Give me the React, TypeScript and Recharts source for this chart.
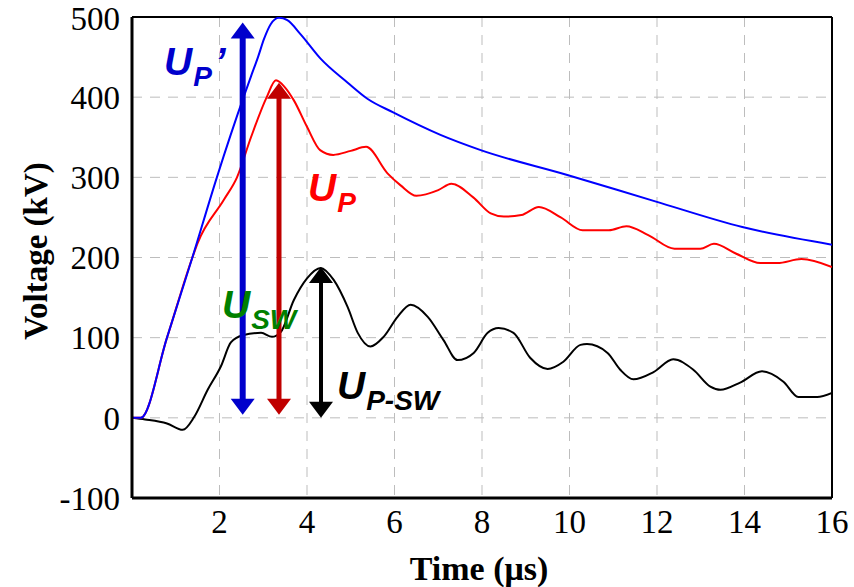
import React from 'react';
import { LineChart, Line, XAxis, YAxis, CartesianGrid, ReferenceLine } from 'recharts';

// U_P' (blue)
const upPrimeTime = [0, 0.2, 0.8, 1.38, 1.94, 2.55, 2.72, 2.88, 3.02, 3.17, 3.36, 3.55, 3.86, 4.31, 4.93, 5.38, 5.97, 7.05, 7.97, 9.95, 11.96, 13.95, 16];
const upPrimeVolt = [0, 0, 100, 200, 300, 400, 426, 450, 473, 491, 499, 496, 478, 448, 418, 398, 381, 353, 334, 303, 270, 238, 216];

// U_P (red)
const upTime = [0, 0.2, 0.8, 1.38, 1.5, 2.1, 2.4, 2.72, 3.08, 3.29, 3.5, 3.7, 4.0, 4.3, 4.6, 5.0, 5.35, 5.84, 6.14, 6.5, 7.0, 7.3, 7.8, 8.2, 8.5, 8.9, 9.3, 9.8, 10.3, 10.9, 11.3, 11.8, 12.4, 12.99, 13.3, 13.8, 14.36, 14.75, 15.3, 16];
const upVolt = [0, 0, 100, 200, 218, 272, 300, 350, 400, 421, 412, 396, 363, 334, 328, 333, 338, 305, 290, 277, 284, 292, 275, 255, 251, 253, 263, 250, 234, 234, 239, 228, 211, 211, 217, 205, 193, 193, 198, 188];

// U_P-SW (black)
const upswTime = [0, 0.3, 0.8, 1.16, 1.42, 1.73, 2.03, 2.26, 2.53, 2.95, 3.2, 3.4, 3.7, 4.0, 4.31, 4.61, 4.93, 5.16, 5.45, 5.75, 6.07, 6.37, 6.76, 7.12, 7.44, 7.81, 8.13, 8.38, 8.72, 9.1, 9.5, 9.86, 10.25, 10.4, 10.87, 11.16, 11.46, 11.92, 12.37, 12.83, 13.22, 13.45, 13.9, 14.4, 14.89, 15.23, 15.43, 15.66, 16];
const upswVolt = [0, -2, -7, -15, 1, 35, 64, 94, 103, 106, 101, 107, 147, 174, 187, 172, 138, 106, 89, 101, 126, 141, 126, 97, 72, 81, 106, 112, 106, 75, 61, 70, 91, 92, 81, 60, 48, 57, 73, 60, 39, 35, 44, 58, 45, 26, 26, 26, 31];

const xTicks = [2, 4, 6, 8, 10, 12, 14, 16];
const yTicks = [-100, 0, 100, 200, 300, 400, 500];

// annotation arrows: time, from, to
const arrowUpPrime = { t: 2.53, from: 4, to: 493 };
const arrowUp = { t: 3.36, from: 4, to: 418 };
const arrowUpsw = { t: 4.32, from: 0, to: 188 };

const toPoints = (t: number[], v: number[]) => t.map((x, i) => ({ t: x, v: v[i] }));

const serif = '"Times New Roman", "Liberation Serif", serif';
const sans = 'Arial, "Liberation Sans", sans-serif';

const makeArrow = (color: string, shaft: number, headW: number, headL: number, label: React.ReactNode) =>
  (props: any) => {
    const { x1, y1, y2 } = props;
    const top = Math.min(y1, y2);
    const bot = Math.max(y1, y2);
    const x = x1;
    return (
      <g>
        <line x1={x} x2={x} y1={top + headL - 1} y2={bot - headL + 1} stroke={color} strokeWidth={shaft} />
        <polygon points={`${x},${top} ${x - headW / 2},${top + headL} ${x + headW / 2},${top + headL}`} fill={color} />
        <polygon points={`${x},${bot} ${x - headW / 2},${bot - headL} ${x + headW / 2},${bot - headL}`} fill={color} />
        {label}
      </g>
    );
  };

const Sub = ({ x, y, color, main, sub, size = 39, subSize = 28, extra }: any) => (
  <text x={x} y={y} fill={color} fontFamily={sans} fontWeight="bold" fontStyle="italic" fontSize={size}>
    <tspan>{main}</tspan>
    <tspan dx={1} dy={11} fontSize={subSize}>{sub}</tspan>
    {extra ? <tspan dx={3} dy={-11} fontSize={size}>{extra}</tspan> : null}
  </text>
);

export default function App() {
  return (
    <div style={{ position: 'absolute', left: 0, top: 0, width: 854, height: 587, background: '#fff' }}>
      <LineChart width={854} height={587} margin={{ top: 17, right: 22, left: 0, bottom: 0 }}>
        <CartesianGrid stroke="#bdbdbd" strokeDasharray="10 8" strokeWidth={1} />
        <XAxis
          type="number"
          dataKey="t"
          domain={[0, 16]}
          ticks={xTicks}
          height={89}
          tickLine={false}
          tickSize={0}
          tickMargin={12}
          axisLine={{ stroke: '#000', strokeWidth: 3 }}
          tick={{ fill: '#000', fontSize: 33, fontFamily: serif }}
          allowDataOverflow
          label={{
            content: () => (
              <text x={479} y={580} textAnchor="middle" fontFamily={serif} fontWeight="bold" fontSize={34} fill="#000">
                Time (μs)
              </text>
            ),
          }}
        />
        <YAxis
          type="number"
          domain={[-100, 500]}
          ticks={yTicks}
          width={132}
          tickLine={false}
          tickSize={0}
          tickMargin={12}
          axisLine={{ stroke: '#000', strokeWidth: 3 }}
          tick={{ fill: '#000', fontSize: 33, fontFamily: serif }}
          allowDataOverflow
          label={{
            content: () => (
              <text
                x={47}
                y={251}
                transform="rotate(-90 47 251)"
                textAnchor="middle"
                fontFamily={serif}
                fontWeight="bold"
                fontSize={33}
                fill="#000"
              >
                Voltage (kV)
              </text>
            ),
          }}
        />
        <ReferenceLine y={500} stroke="#000" strokeWidth={2} />
        <ReferenceLine x={16} stroke="#000" strokeWidth={2} />

        <Line data={toPoints(upswTime, upswVolt)} dataKey="v" type="monotone" stroke="#000" strokeWidth={2} dot={false} isAnimationActive={false} />
        <Line data={toPoints(upTime, upVolt)} dataKey="v" type="monotone" stroke="#ff0000" strokeWidth={2} dot={false} isAnimationActive={false} />
        <Line data={toPoints(upPrimeTime, upPrimeVolt)} dataKey="v" type="monotone" stroke="#0000ff" strokeWidth={2} dot={false} isAnimationActive={false} />

        <ReferenceLine
          segment={[{ x: arrowUpPrime.t, y: arrowUpPrime.from }, { x: arrowUpPrime.t, y: arrowUpPrime.to }]}
          shape={makeArrow('#0000cc', 6, 24, 16,
            <Sub x={164} y={75} color="#0000cc" main="U" sub="P" extra="’" />)}
        />
        <ReferenceLine
          segment={[{ x: arrowUp.t, y: arrowUp.from }, { x: arrowUp.t, y: arrowUp.to }]}
          shape={makeArrow('#c00000', 5, 24, 16,
            <Sub x={308} y={201} color="#ff0000" main="U" sub="P" />)}
        />
        <ReferenceLine
          segment={[{ x: arrowUpsw.t, y: arrowUpsw.from }, { x: arrowUpsw.t, y: arrowUpsw.to }]}
          shape={makeArrow('#000000', 4, 24, 16,
            <g>
              <Sub x={222} y={318} color="#008000" main="U" sub="SW" />
              <Sub x={337} y={399} color="#000000" main="U" sub="P-SW" />
            </g>)}
        />
      </LineChart>
    </div>
  );
}
